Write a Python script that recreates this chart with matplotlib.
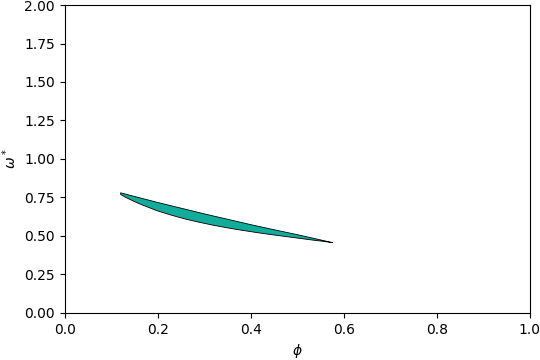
import matplotlib
matplotlib.use("Agg")
import matplotlib.pyplot as plt

phi_upper = [0.12, 0.15, 0.20, 0.25, 0.30, 0.35, 0.40, 0.45, 0.50, 0.55, 0.576]
omega_upper = [0.780, 0.756, 0.717, 0.680, 0.643, 0.608, 0.573, 0.540, 0.508, 0.474, 0.456]
phi_lower = [0.12, 0.13, 0.14, 0.155, 0.17, 0.20, 0.23, 0.26, 0.29, 0.32, 0.35,
             0.38, 0.41, 0.44, 0.47, 0.50, 0.53, 0.555, 0.576]
omega_lower = [0.770, 0.752, 0.737, 0.716, 0.697, 0.662, 0.634, 0.609, 0.588, 0.569, 0.552,
               0.537, 0.523, 0.510, 0.498, 0.486, 0.474, 0.465, 0.456]

fig = plt.figure(figsize=(5.4, 3.6), dpi=100)
ax = fig.add_axes([0.120, 0.131, 0.861, 0.855])

xs = list(phi_upper) + list(phi_lower[::-1])
ys = list(omega_upper) + list(omega_lower[::-1])
ax.fill(xs, ys, facecolor='#12ad9a', edgecolor='black', linewidth=0.6)

ax.set_xlim(0, 1)
ax.set_ylim(0, 2)
ax.set_xticks([0.0, 0.2, 0.4, 0.6, 0.8, 1.0])
ax.set_yticks([0.0, 0.25, 0.5, 0.75, 1.0, 1.25, 1.5, 1.75, 2.0])
ax.set_yticklabels(['0.00', '0.25', '0.50', '0.75', '1.00', '1.25', '1.50', '1.75', '2.00'])
ax.set_xlabel(r'$\phi$')
ax.set_ylabel(r'$\omega^*$')

fig.savefig('out.png', dpi=100)
